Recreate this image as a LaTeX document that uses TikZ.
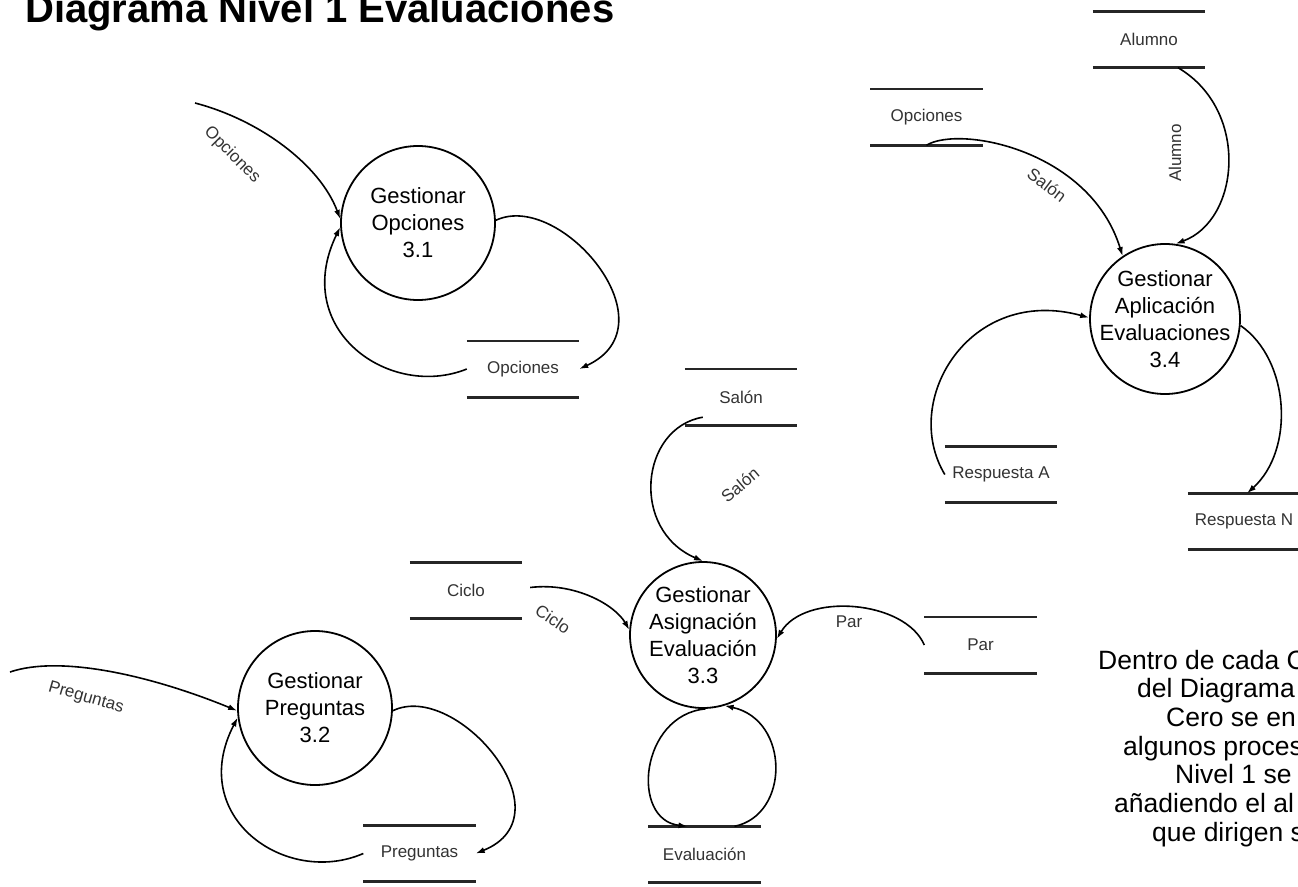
\documentclass[tikz,border=0pt]{standalone}
\usepackage{fontspec}
\setmainfont{Liberation Sans}
\usetikzlibrary{calc,arrows.meta}

\begin{document}
\begin{tikzpicture}[x=1pt,y=-1pt,
  proc/.style={circle,draw=black,line width=1.8pt,inner sep=-40pt,align=center,
    font=\fontsize{22}{27}\selectfont},
  store/.style={rectangle,minimum width=112pt,minimum height=56pt,inner sep=0pt,
    font=\fontsize{17}{20}\selectfont,text=black!80},
  storeline/.style={line width=2.6pt,draw=black!85},
  flow/.style={line width=1.6pt,-{Latex[length=9pt,width=6pt]}},
  flowlabel/.style={font=\fontsize{17}{20}\selectfont,text=black!80,inner sep=0pt},
  title/.style={font=\fontsize{40}{48}\selectfont\bfseries,inner sep=0pt,anchor=base west},
  note/.style={font=\fontsize{26.5}{30}\selectfont,inner sep=0pt,anchor=base west}
]
% page
\fill[white] (0,0) rectangle (1298,886);
\useasboundingbox (0,0) rectangle (1298,886);

% heading
\node[title] (title) at (25,22) {Diagrama Nivel 1 Evaluaciones};

% processes
\node[proc,minimum size=154pt] (p31) at (418,223) {Gestionar\\Opciones\\3.1};
\node[proc,minimum size=154pt] (p32) at (315,708) {Gestionar\\Preguntas\\3.2};
\node[proc,minimum size=146pt] (p33) at (703,635) {Gestionar\\Asignación\\Evaluación\\3.3};
\node[proc,minimum size=150pt] (p34) at (1165,319) {Gestionar\\Aplicación\\Evaluaciones\\3.4};

% data stores
\node[store] (optA) at (523,369) {Opciones};
\node[store] (optB) at (926.5,117) {Opciones};
\node[store] (alumno) at (1149,39.5) {Alumno};
\node[store] (salon) at (741,397) {Salón};
\node[store] (ciclo) at (466,590.5) {Ciclo};
\node[store] (par) at (980.5,645) {Par};
\node[store] (preg) at (419.5,853.5) {Preguntas};
\node[store] (eval) at (704.5,854.5) {Evaluación};
\node[store] (respA) at (1001,474.5) {Respuesta A};
\node[store] (respN) at (1244,521.5) {Respuesta N};
\foreach \s in {optA,optB,alumno,salon,ciclo,par,preg,eval,respA,respN}{
  \draw[storeline] (\s.north west) -- (\s.north east);
  \draw[storeline] (\s.south west) -- (\s.south east);
}

% flows of 3.1
\coordinate (optIn) at (195,103);
\draw[flow] (optIn) .. controls (260,120) and (320,165) .. (p31.177);
\draw[flow] (p31.2) .. controls (560,190) and (675,325) .. (optA.east);
\draw[flow] (optA.west) .. controls (390,400) and (290,330) .. (p31.183);
\node[flowlabel,rotate=-45] (lOpc) at (232,155) {Opciones};

% flows of 3.2
\coordinate (pregIn) at (10,672);
\draw[flow] (pregIn) .. controls (60,655) and (150,675) .. (p32.182);
\draw[flow] (p32.-2) .. controls (456,680) and (571,815) .. (preg.east);
\draw[flow] (preg.west) .. controls (286,887) and (186,817) .. (p32.187);
\node[flowlabel,rotate=-16] (lPreg) at (86,698) {Preguntas};

% flows of 3.3
\draw[flow] ($(salon.south west)+(18,-8)$) .. controls (640,428) and (630,530) .. (p33.90);
\draw[flow] ($(ciclo.east)+(8,-3)$) .. controls (575,582) and (615,605) .. (p33.176);
\draw[flow] (par.west) .. controls (905,600) and (805,592) .. (p33.-3);
\draw[flow] (p33.-88) .. controls (640,715) and (630,820) .. ($(eval.north)+(-17,0)$);
\draw[flow] ($(eval.north)+(30,0)$) .. controls (790,815) and (790,720) .. (p33.-73);
\node[flowlabel,rotate=40] (lSal1) at (740,485) {Salón};
\node[flowlabel,rotate=-34] (lCic) at (553,619) {Ciclo};
\node[flowlabel] (lPar) at (849,622) {Par};

% flows of 3.4
\draw[flow] (optB.south) .. controls (960,125) and (1090,150) .. (p34.124);
\draw[flow] ($(alumno.south)+(29,0)$) .. controls (1250,110) and (1240,220) .. (p34.82);
\draw[flow] (respA.west) .. controls (900,400) and (970,285) .. (p34.179);
\draw[flow] (p34.-5) .. controls (1290,360) and (1295,450) .. ($(respN.north)+(3,0)$);
\node[flowlabel,rotate=-37] (lSal2) at (1047,185) {Salón};
\node[flowlabel,rotate=90] (lAlu) at (1175,153) {Alumno};

% explanatory note
\node[note] (n1) at (1098,669) {Dentro de cada C};
\node[note] (n2) at (1137,697.7) {del Diagrama};
\node[note] (n3) at (1166,726.4) {Cero se en};
\node[note] (n4) at (1123,755.1) {algunos proces};
\node[note] (n5) at (1175,783.8) {Nivel 1 se};
\node[note] (n6) at (1114,812.5) {añadiendo el al};
\node[note] (n7) at (1152,841.2) {que dirigen s};
\end{tikzpicture}
\end{document}
